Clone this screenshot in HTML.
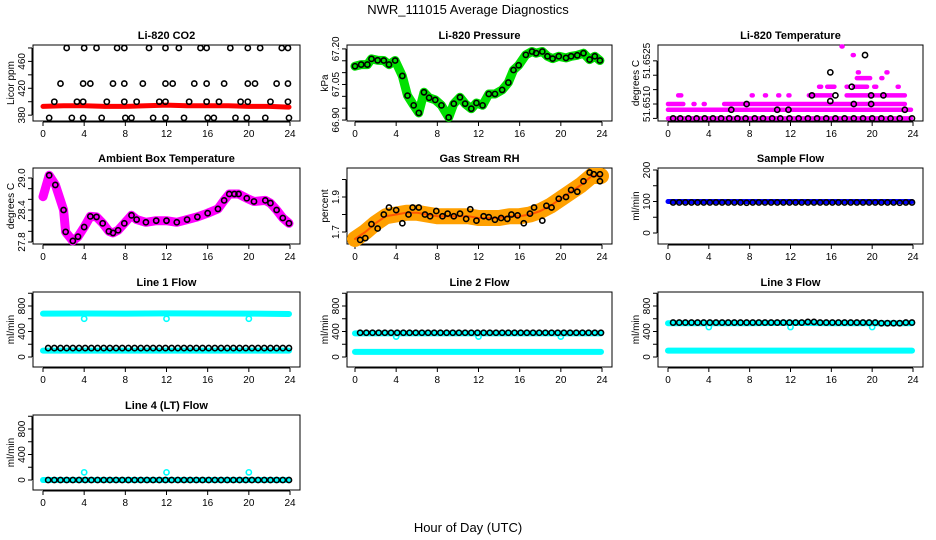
<!DOCTYPE html>
<html><head><meta charset="utf-8"><style>
html,body{margin:0;padding:0;background:#fff;}
svg{display:block;font-family:"Liberation Sans",Arial,sans-serif;}
</style></head><body>
<svg id="chart" width="936" height="540" viewBox="0 0 936 540" xmlns="http://www.w3.org/2000/svg">
<rect width="936" height="540" fill="#fff"/>
<text x="468" y="14" font-size="13" text-anchor="middle">NWR_111015  Average Diagnostics</text>
<text x="468" y="532" font-size="13" text-anchor="middle">Hour of Day (UTC)</text>
</svg>
<script>
// ---------- data ----------
const xTicks = [0,4,8,12,16,20,24];
// CO2
const co2Hours480 = [2.3,4.0,5.2,7.2,7.9,10.3,11.9,13.2,15.3,15.9,18.2,19.9,21.1,23.2,23.8];
const co2Hours427 = [1.7,3.9,4.6,6.8,7.9,9.7,11.9,12.6,14.7,15.9,17.6,19.9,20.6,22.7,23.8];
const co2Hours400 = [1.1,3.3,3.9,6.2,7.9,9.1,11.3,11.9,14.2,15.9,17.1,19.2,19.9,22.1,23.8];
const co2Hours376 = [0.6,2.8,3.9,5.7,8.0,8.6,10.7,11.9,13.7,16.0,16.6,18.7,19.8,21.6,23.9];
const co2Levels = [480,427,400,376];
const co2BandHours = [0,2,4,6,8,10,12,14,16,18,20,22,23.9];
const co2BandVals = [393,394,394,393,393,394,395,394,394,394,393,393,392];
// Pressure
const pressHours = [0,0.6,1.2,1.6,2.2,2.8,3.3,3.9,4.6,5.1,5.7,6.2,6.7,7.2,7.8,8.4,9.1,9.6,10.2,10.7,11.3,11.8,12.4,13,13.6,14.3,14.9,15.4,15.9,16.6,17.2,17.6,18.2,18.7,19.2,19.8,20.5,21,21.6,22.2,22.8,23.3,23.8];
const pressVals = [67.127,67.134,67.134,67.158,67.152,67.151,67.134,67.151,67.086,67.003,66.962,66.930,67.017,66.994,66.985,66.962,66.911,66.969,66.996,66.969,66.948,66.972,66.962,67.010,67.010,67.027,67.058,67.111,67.131,67.175,67.189,67.182,67.189,67.169,67.159,67.169,67.162,67.169,67.173,67.182,67.155,67.169,67.151];
// Li-820 temperature (pink runs and black points)
const tempRunLevel = [51.6505,51.6508,51.6510,51.6510,51.6510,51.6510,51.6513,51.6513,51.6513,51.6513,51.6513,51.6513,51.6513,51.6516,51.6516,51.6516,51.6516,51.6516,51.6516,51.6519,51.6519,51.6521,51.6521,51.6527,51.6530];
const tempRunStart = [0,0,0,2.5,3.5,5.5,1,8.2,9.5,10.8,11.8,13.8,17.5,14.8,15.6,17.5,18.2,20.2,22.5,18.5,20.9,18.6,21.4,18.1,17.0];
const tempRunEnd   = [23.8,23.8,1.5,2.6,3.6,23.2,1.3,8.3,9.6,10.9,11.9,16.0,23.2,15.0,16.3,17.6,19.5,20.4,22.6,19.8,21.0,18.7,21.5,18.2,17.1];
const tempBlackHours = [0.5,1.2,2,2.8,3.6,4.4,5.2,6,6.8,7.6,8.5,9.3,10.2,11,11.9,12.8,13.7,14.6,15.5,16.4,17.3,18.2,19.1,20,20.9,21.8,22.7,23.9,7.7,6.2,10.7,11.8,14.1,15.9,16.4,15.9,18.0,19.3,18.2,19.9,19.9,21.1,23.2];
const tempBlackVals = [51.6505,51.6505,51.6505,51.6505,51.6505,51.6505,51.6505,51.6505,51.6505,51.6505,51.6505,51.6505,51.6505,51.6505,51.6505,51.6505,51.6505,51.6505,51.6505,51.6505,51.6505,51.6505,51.6505,51.6505,51.6505,51.6505,51.6505,51.6505,51.6510,51.6508,51.6508,51.6508,51.6513,51.6511,51.6513,51.6521,51.6516,51.6527,51.6510,51.6510,51.6513,51.6513,51.6508];
// Ambient box temperature
const ambHours = [0,0.3,0.6,1.2,2,2.2,2.9,3.4,4,4.6,5.2,5.8,6.4,6.8,7.3,7.9,8.6,9.1,10,11,12,13,14,15,16,17,17.6,18.1,18.6,19,19.8,20.5,21.6,22.1,22.7,23.3,23.9];
const ambVals = [28.65,28.85,29.05,28.87,28.4,27.99,27.82,27.9,28.08,28.28,28.27,28.15,28.0,27.97,28.02,28.15,28.3,28.22,28.17,28.2,28.2,28.17,28.22,28.27,28.34,28.42,28.58,28.7,28.7,28.7,28.62,28.56,28.58,28.53,28.4,28.25,28.15];
// Gas stream RH
const rhBandHours = [0,1,2,3,4,5,6,7,8,9,10,11,12,13,14,15,16,17,18,19,20,21,22,23,23.9];
const rhBandVals = [1.66,1.70,1.75,1.79,1.80,1.81,1.81,1.80,1.79,1.79,1.79,1.79,1.78,1.78,1.78,1.79,1.79,1.80,1.82,1.85,1.89,1.93,1.97,2.02,2.02];
const rhHours = [0.5,1,1.6,2.2,2.8,3.3,4,4.6,5.2,5.6,6.2,6.8,7.3,7.9,8.5,9,9.6,10.2,10.8,11.2,11.8,12.5,13,13.6,14.2,14.8,15.2,15.8,16.4,17,17.4,18.2,18.6,19.1,19.8,20.5,21,21.6,22.2,22.8,23.2,23.8,23.8];
const rhVals = [1.655,1.665,1.745,1.72,1.80,1.84,1.825,1.75,1.80,1.84,1.84,1.80,1.79,1.82,1.79,1.805,1.79,1.805,1.775,1.83,1.765,1.79,1.785,1.77,1.78,1.775,1.80,1.795,1.75,1.805,1.84,1.765,1.85,1.84,1.89,1.90,1.94,1.93,1.99,2.04,2.03,2.03,1.99];
// Flows
const flowBandHours = [0,4,8,12,16,20,23.9];
const flowBlackHours = [0.5,1.1,1.7,2.3,2.9,3.5,4.1,4.7,5.3,5.9,6.5,7.1,7.7,8.3,8.9,9.5,10.1,10.7,11.3,11.9,12.5,13.1,13.7,14.3,14.9,15.5,16.1,16.7,17.3,17.9,18.5,19.1,19.7,20.3,20.9,21.5,22.1,22.7,23.3,23.9];
const sampleBand = [100,100,100,100,100,100,100];
const sampleBlack = [97,97,97,97,97,97,97,97,97,97,97,97,96,97,97,97,97,97,97,97,97,97,97,97,97,97,97,97,97,97,97,97,97,97,97,97,97,96,97,97];
const line1High = [680,682,680,684,682,680,675];
const line1Low = [100,100,100,100,100,100,100];
const line1Dips = [600,600,600];
const line1Black = [140,140,140,140,140,140,140,140,140,140,140,140,140,140,140,140,140,140,140,140,140,140,140,140,140,140,140,140,140,140,140,140,140,140,140,140,140,140,140,140];
const line2High = [370,370,370,370,370,370,370];
const line2Low = [80,80,80,80,80,80,80];
const line2Dips = [320,320,320];
const line2Black = [380,380,380,380,380,380,380,380,380,380,380,380,380,380,380,380,380,380,380,380,380,380,380,380,380,380,380,380,380,380,380,380,380,380,380,380,380,380,380,380];
const line3High = [530,530,530,535,530,530,530];
const line3Low = [100,100,100,100,100,100,100];
const line3Dips = [470,470,470];
const line3Black = [540,540,540,540,540,540,540,540,540,540,540,540,540,540,540,540,540,540,540,540,540,540,550,550,540,540,540,540,540,540,540,540,540,540,530,530,530,530,540,540];
const line4High = [0,0,0,0,0,0,0];
const line4Dips = [120,120,120];
const line4Black = [0,0,0,0,0,0,0,0,0,0,0,0,0,0,0,0,0,0,0,0,0,0,0,0,0,0,0,0,0,0,0,0,0,0,0,0,0,0,0,0];
const dipHours = [4,12,20];

// ---------- drawing ----------
const svg = document.getElementById('chart');
const NS = 'http://www.w3.org/2000/svg';
function el(tag, attrs, parent){
  const e = document.createElementNS(NS, tag);
  for (const k in attrs) e.setAttribute(k, attrs[k]);
  (parent||svg).appendChild(e);
  return e;
}
const cols = [{l:33,r:300,x0:43,x24:290},{l:347,r:612,x0:355,x24:602},{l:658,r:923,x0:668,x24:913}];
const rows = [{t:45,b:121},{t:168,b:244},{t:292,b:367},{t:415,b:490}];

function panel(name, title, ytitle, c, r, ymin, ymax, yTicks, yLabels){
  const C = cols[c], R = rows[r];
  const g = el('g', {});
  
  
  const xs = h => C.x0 + h*(C.x24-C.x0)/24;
  const ys = v => R.b - (v-ymin)/(ymax-ymin)*(R.b-R.t);
  const t = el('text', {x:(C.l+C.r)/2, y:R.t-6, 'font-size':11, 'font-weight':'bold', 'text-anchor':'middle'}, g);
  t.textContent = title;
  
  
  const box = el('rect', {x:C.l, y:R.t, width:C.r-C.l, height:R.b-R.t, fill:'none', stroke:'#000', 'stroke-width':1}, g);
  
  
  const ax = el('g', {}, g);
  
  
  el('line', {x1:xs(0), x2:xs(24), y1:R.b+1, y2:R.b+1, stroke:'#000'}, ax);
  xTicks.forEach(h => {
    el('line', {x1:xs(h), x2:xs(h), y1:R.b+1, y2:R.b+5, stroke:'#000'}, ax);
    const lt = el('text', {x:xs(h), y:R.b+16, 'font-size':10, 'text-anchor':'middle'}, ax);
    lt.textContent = h;
  });
  const ay = el('g', {}, g);
  
  
  el('line', {x1:C.l-1, x2:C.l-1, y1:ys(yTicks[0]), y2:ys(yTicks[yTicks.length-1]), stroke:'#000'}, ay);
  yTicks.forEach(v => el('line', {x1:C.l-5, x2:C.l-1, y1:ys(v), y2:ys(v), stroke:'#000'}, ay));
  yLabels.forEach(v => {
    const lt = el('text', {x:0, y:0, 'font-size':10, 'text-anchor':'middle', transform:`translate(${C.l-8},${ys(v[0])}) rotate(-90)`}, ay);
    lt.textContent = v[1];
  });
  const yt = el('text', {x:0, y:0, 'font-size':10, 'text-anchor':'middle', transform:`translate(${C.l-19},${(R.t+R.b)/2}) rotate(-90)`}, g);
  yt.textContent = ytitle;
  
  
  return {g, xs, ys};
}
function band(P, hours, vals, color, w, nm){
  const pts = hours.map((h,i) => P.xs(h).toFixed(1)+','+P.ys(vals[i]).toFixed(1)).join(' ');
  const pl = el('polyline', {points:pts, fill:'none', stroke:color, 'stroke-width':w, 'stroke-linejoin':'round', 'stroke-linecap':'round'}, P.g);
  
  
}
function circles(P, hours, vals, color, nm){
  const g = el('g', {}, P.g);
  
  
  hours.forEach((h,i) => el('circle', {cx:P.xs(h), cy:P.ys(vals[i]), r:2.6, fill:'none', stroke:color, 'stroke-width':1.6}, g));
}

// CO2
let P = panel('co2', 'Li-820 CO2', 'Licor ppm', 0, 0, 371.3, 484.4, [380,400,420,440,460,480], [[380,'380'],[420,'420'],[460,'460']]);
band(P, co2BandHours, co2BandVals, '#ff0000', 5, 'co2-red-series');
[co2Hours480, co2Hours427, co2Hours400, co2Hours376].forEach((hs, k) => circles(P, hs, hs.map(() => co2Levels[k]), '#000', 'co2-black-points-' + co2Levels[k]));

// Pressure
P = panel('pressure', 'Li-820 Pressure', 'kPa', 1, 0, 66.896, 67.2165, [66.90,66.95,67.00,67.05,67.10,67.15,67.20], [[66.90,'66.90'],[67.05,'67.05'],[67.20,'67.20']]);
band(P, pressHours, pressVals, '#00e000', 9, 'pressure-green-series');
circles(P, pressHours, pressVals, '#000', 'pressure-black-points');

// Li-820 temperature
P = panel('li820-temp', 'Li-820 Temperature', 'degrees C', 2, 0, 51.65041, 51.65305, [51.6505,51.6510,51.6515,51.6520,51.6525], [[51.6510,'51.6510'],[51.6525,'51.6525']]);
{
  const g = el('g', {}, P.g);
  
  
  tempRunLevel.forEach((v,i) => {
    el('line', {x1:P.xs(tempRunStart[i]), x2:P.xs(tempRunEnd[i]), y1:P.ys(v), y2:P.ys(v), stroke:'#ff00ff', 'stroke-width':4.5, 'stroke-linecap':'round'}, g);
  });
}
circles(P, tempBlackHours, tempBlackVals, '#000', 'li820-temp-black-points');

// Ambient
P = panel('ambient-temp', 'Ambient Box Temperature', 'degrees C', 0, 1, 27.7625, 29.1875, [27.8,28.0,28.2,28.4,28.6,28.8,29.0], [[27.8,'27.8'],[28.4,'28.4'],[29.0,'29.0']]);
band(P, ambHours, ambVals, '#ff00ff', 9, 'ambient-magenta-series');
circles(P, ambHours.slice(2), ambVals.slice(2), '#000', 'ambient-black-points');

// RH
P = panel('rh', 'Gas Stream RH', 'percent', 1, 1, 1.6314, 2.0657, [1.7,1.8,1.9,2.0], [[1.7,'1.7'],[1.9,'1.9']]);
band(P, rhBandHours, rhBandVals, '#ffa000', 16, 'rh-orange-series');
band(P, rhBandHours, rhBandVals, '#ff5500', 2, 'rh-red-dots');
circles(P, rhHours, rhVals, '#000', 'rh-black-points');

// Sample flow
P = panel('sample-flow', 'Sample Flow', 'ml/min', 2, 1, -34.9, 206.3, [0,50,100,150,200], [[0,'0'],[100,'100'],[200,'200']]);
band(P, flowBandHours, sampleBand, '#0000ff', 5, 'sample-flow-blue-series');
circles(P, flowBlackHours, sampleBlack, '#000', 'sample-flow-black-points');

// Line flows
const fTicks = [0,200,400,600,800,1000], fLabels = [[0,'0'],[400,'400'],[800,'800']];
function flowPanel(name, title, c, r, high, low, dips, black){
  const Q = panel(name, title, 'ml/min', c, r, -156.9, 1019.6, fTicks, fLabels);
  band(Q, flowBandHours, high, '#00ffff', 6, name + '-cyan-series-a');
  if (low) band(Q, flowBandHours, low, '#00ffff', 6, name + '-cyan-series-b');
  circles(Q, dipHours, dips, '#00ffff', name + '-cyan-dips');
  circles(Q, flowBlackHours, black, '#000', name + '-black-points');
}
flowPanel('line1-flow', 'Line 1 Flow', 0, 2, line1High, line1Low, line1Dips, line1Black);
flowPanel('line2-flow', 'Line 2 Flow', 1, 2, line2High, line2Low, line2Dips, line2Black);
flowPanel('line3-flow', 'Line 3 Flow', 2, 2, line3High, line3Low, line3Dips, line3Black);
flowPanel('line4-flow', 'Line 4 (LT) Flow', 0, 3, line4High, null, line4Dips, line4Black);
</script>
</body></html>
